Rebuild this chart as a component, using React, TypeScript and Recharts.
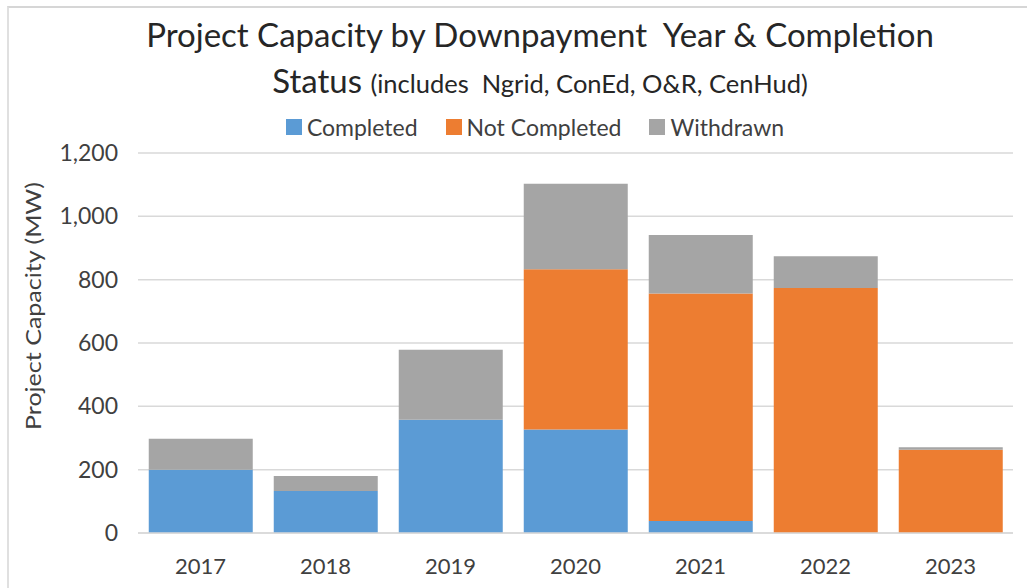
import { BarChart, Bar, XAxis, YAxis, CartesianGrid } from 'recharts';

const years = ['2017', '2018', '2019', '2020', '2021', '2022', '2023'];
const completed = [200, 133, 358, 327, 38, 0, 0];
const notCompleted = [0, 0, 0, 506, 718, 774, 263];
const withdrawn = [98, 47, 221, 270, 185, 100, 8];
const yTicks = [0, 200, 400, 600, 800, 1000, 1200];

const data = years.map((year, i) => ({
  year,
  Completed: completed[i],
  'Not Completed': notCompleted[i],
  Withdrawn: withdrawn[i],
}));

const font = 'Lato, "Open Sans", sans-serif';
const textColor = '#404040';

const legendItems = [
  { name: 'Completed', color: '#5B9BD5' },
  { name: 'Not Completed', color: '#ED7D31' },
  { name: 'Withdrawn', color: '#A5A5A5' },
];

// y axis title, squeezed a little so it reads like the narrow original font
const YLabel = () => (
  <text
    x={32}
    y={306}
    transform="rotate(-90, 32, 306)"
    textAnchor="middle"
    dominantBaseline="central"
    fill={textColor}
    fontSize={22}
    fontFamily={font}
    textLength={248}
    lengthAdjust="spacingAndGlyphs"
  >
    Project Capacity (MW)
  </text>
);

export default function App() {
  return (
    <div
      style={{
        position: 'absolute',
        left: 0,
        top: 0,
        width: 1027,
        height: 588,
        overflow: 'hidden',
        background: '#fff',
        fontFamily: font,
      }}
    >
      {/* chart frame, only top & left edges visible */}
      <div
        style={{
          position: 'absolute',
          left: 7,
          top: 6,
          width: 1100,
          height: 700,
          borderTop: '2px solid #d6d6d6',
          borderLeft: '2px solid #e0e0e0',
        }}
      />
      <div
        style={{
          position: 'absolute',
          left: 140,
          width: 800,
          top: 13,
          textAlign: 'center',
          fontSize: 33,
          color: '#262626',
          lineHeight: '42px',
          whiteSpace: 'nowrap',
        }}
      >
        Project Capacity by Downpayment&nbsp; Year &amp; Completion
      </div>
      <div
        style={{
          position: 'absolute',
          left: 140,
          width: 800,
          top: 60,
          textAlign: 'center',
          color: '#262626',
          lineHeight: '40px',
          whiteSpace: 'nowrap',
        }}
      >
        <span style={{ fontSize: 33 }}>Status </span>
        <span style={{ fontSize: 25.5 }}>(includes&nbsp; Ngrid, ConEd, O&amp;R, CenHud)</span>
      </div>
      <div
        style={{
          position: 'absolute',
          left: 135,
          width: 800,
          top: 113,
          display: 'flex',
          justifyContent: 'center',
          gap: 28,
          fontSize: 23,
          color: textColor,
          lineHeight: '28px',
        }}
      >
        {legendItems.map((it) => (
          <div key={it.name} style={{ display: 'flex', alignItems: 'center' }}>
            <span
              style={{
                display: 'inline-block',
                width: 16,
                height: 16,
                background: it.color,
                marginRight: 5,
              }}
            />
            {it.name}
          </div>
        ))}
      </div>

      <div style={{ position: 'absolute', left: 0, top: 0 }}>
        <BarChart
          width={1027}
          height={588}
          data={data}
          margin={{ top: 153, right: 14, left: 68, bottom: 25 }}
          barCategoryGap="8.6%"
        >
          <CartesianGrid vertical={false} stroke="#d9d9d9" strokeWidth={1.5} />
          <XAxis
            dataKey="year"
            axisLine={{ stroke: '#d9d9d9', strokeWidth: 1.5 }}
            tickLine={false}
            height={30}
            tickMargin={19}
            tick={{ fill: textColor, fontSize: 22, fontFamily: font }}
          />
          <YAxis
            domain={[0, 1200]}
            ticks={yTicks}
            width={70}
            axisLine={false}
            tickLine={false}
            tickMargin={14}
            tickFormatter={(v) => Number(v).toLocaleString('en-US')}
            tick={{ fill: textColor, fontSize: 23, fontFamily: font }}
            label={<YLabel />}
          />
          <Bar dataKey="Completed" stackId="a" fill="#5B9BD5" isAnimationActive={false} />
          <Bar dataKey="Not Completed" stackId="a" fill="#ED7D31" isAnimationActive={false} />
          <Bar dataKey="Withdrawn" stackId="a" fill="#A5A5A5" isAnimationActive={false} />
        </BarChart>
      </div>
    </div>
  );
}
